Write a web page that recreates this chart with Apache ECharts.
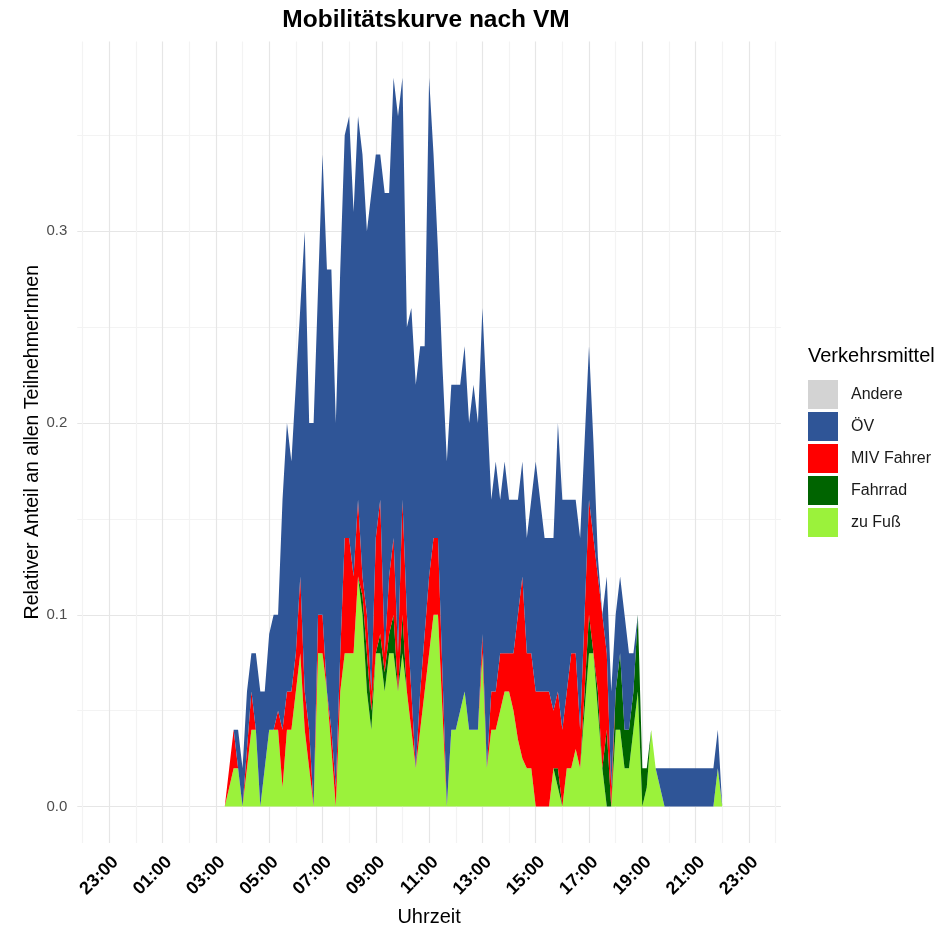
<!DOCTYPE html>
<html>
<head>
<meta charset="utf-8">
<script src="https://cdn.jsdelivr.net/npm/echarts@6/dist/echarts.min.js"></script>
<style>html,body{margin:0;padding:0;background:#fff}#c{width:938px;height:932px}</style>
</head>
<body>
<div id="c"></div>
<script>
const times = ['03:20','03:30','03:40','03:50',
'04:00','04:10','04:20','04:30','04:40','04:50',
'05:00','05:10','05:20','05:30','05:40','05:50',
'06:00','06:10','06:20','06:30','06:40','06:50',
'07:00','07:10','07:20','07:30','07:40','07:50',
'08:00','08:10','08:20','08:30','08:40','08:50',
'09:00','09:10','09:20','09:30','09:40','09:50',
'10:00','10:10','10:20','10:30','10:40','10:50',
'11:00','11:10','11:20','11:30','11:40','11:50',
'12:00','12:10','12:20','12:30','12:40','12:50',
'13:00','13:10','13:20','13:30','13:40','13:50',
'14:00','14:10','14:20','14:30','14:40','14:50',
'15:00','15:10','15:20','15:30','15:40','15:50',
'16:00','16:10','16:20','16:30','16:40','16:50',
'17:00','17:10','17:20','17:30','17:40','17:50',
'18:00','18:10','18:20','18:30','18:40','18:50',
'19:00','19:10','19:20','19:30','19:40','19:50',
'20:00','20:10','20:20','20:30','20:40','20:50',
'21:00','21:10','21:20','21:30','21:40','21:50',
'22:00'];

const zuFuss = [0,.01,.02,.02,
0,.02,.04,.04,0,.02,
.04,.04,.04,.01,.04,.04,
.06,.08,.04,.02,0,.08,
.08,.06,.03,0,.06,.08,
.08,.08,.12,.10,.06,.04,
.08,.08,.06,.08,.08,.06,
.08,.06,.04,.02,.04,.06,
.08,.10,.10,.05,0,.04,
.04,.05,.06,.04,.04,.04,
.08,.02,.04,.04,.05,.06,
.06,.05,.035,.025,.02,.02,
0,0,0,0,.02,.01,
0,.02,.02,.03,.02,.05,
.08,.08,.05,.02,0,0,
.04,.04,.02,.02,.04,.06,
0,.01,.04,.02,.01,0,
0,0,0,0,0,0,
0,0,0,0,0,.02,
0];

const fahrrad = [0,0,0,0,
0,0,0,0,0,0,
0,0,0,0,0,0,
0,0,0,0,0,0,
0,0,0,0,0,0,
0,0,0,.01,.02,.01,
0,.01,.01,.01,.02,0,
.02,0,0,0,0,0,
0,0,0,0,0,0,
0,0,0,0,0,0,
0,0,0,0,0,0,
0,0,0,0,0,0,
0,0,0,0,0,.01,
0,0,0,0,0,.01,
.02,0,.01,0,.04,0,
.02,.04,.02,.02,.02,.04,
.02,.01,0,0,0,0,
0,0,0,0,0,0,
0,0,0,0,0,0,
0];

const mivFahrer = [0,.01,.02,0,
0,.01,.02,0,0,0,
0,0,.01,.03,.02,.02,
.02,.04,.02,.02,0,.02,
.02,0,.01,.01,.02,.06,
.06,.04,.04,.01,.02,.01,
.06,.07,.01,.03,.04,.02,
.06,.04,.02,0,.02,.03,
.04,.04,.04,.02,0,0,
0,0,0,0,0,0,
.01,0,.02,.02,.03,.02,
.02,.03,.065,.095,.06,.06,
.06,.06,.06,.06,.03,.04,
.04,.04,.06,.05,.02,.04,
.06,.06,.06,.08,.04,.01,
0,0,0,0,0,0,
0,0,0,0,0,0,
0,0,0,0,0,0,
0,0,0,0,0,0,
0];

const oev = [0,0,0,.02,
.02,.03,.02,.04,.06,.04,
.05,.06,.05,.12,.14,.12,
.14,.14,.24,.16,.20,.17,
.24,.22,.24,.19,.20,.21,
.22,.19,.20,.22,.20,.26,
.20,.18,.24,.20,.24,.28,
.22,.15,.20,.20,.18,.15,
.26,.20,.15,.16,.18,.18,
.18,.17,.18,.16,.18,.16,
.17,.19,.10,.12,.08,.10,
.08,.08,.06,.06,.06,.08,
.12,.10,.08,.08,.09,.14,
.12,.10,.08,.08,.10,.09,
.08,.05,.01,0,.04,.05,
.04,.04,.06,.04,.02,0,
0,0,0,0,.01,.02,
.02,.02,.02,.02,.02,.02,
.02,.02,.02,.02,.02,.02,
0];

const andere = times.map(() => 0);

const tickLabels = ['23:00','01:00','03:00','05:00','07:00','09:00','11:00','13:00','15:00','17:00','19:00','21:00','23:00'];
const yTickLabels = ['0.0','0.1','0.2','0.3'];

const FONT = 'Liberation Sans, Arial, Helvetica, sans-serif';
const toHour = s => { const p = s.split(':').map(Number); return p[0] + p[1] / 60; };
const xs = times.map(toHour);

const labelPos = tickLabels.map((_, i) => -1 + 2 * i);
const gridPos = []; for (let h = -2; h <= 24; h++) gridPos.push(h);
const yLabelPos = yTickLabels.map(Number);
const yGridPos = [0, 0.05, 0.1, 0.15, 0.2, 0.25, 0.3, 0.35];

// value first so that the stacked dimension is the value (y), time second (x)
function mk(name, vals, color) {
  return {
    name, type: 'line', stack: 'vm',
    data: xs.map((x, i) => [vals[i], x]),
    encode: { x: 1, y: 0 },
    symbol: 'none', showSymbol: false,
    lineStyle: { width: 0 },
    areaStyle: { color, opacity: 1 },
    itemStyle: { color },
    color,
    emphasis: { disabled: true },
    silent: true
  };
}

const chart = echarts.init(document.getElementById('c'), null, { renderer: 'canvas' });
chart.setOption({
  animation: false,
  backgroundColor: '#ffffff',
  textStyle: { fontFamily: FONT },
  title: [
    { text: 'Mobilitätskurve nach VM', left: 421, top: 3, textAlign: 'center',
      textStyle: { fontFamily: FONT, fontSize: 24.5, fontWeight: 'bold', color: '#000' } },
    { text: 'Verkehrsmittel', left: 803, top: 341,
      textStyle: { fontFamily: FONT, fontSize: 20, fontWeight: 'normal', color: '#000' } }
  ],
  legend: {
    data: ['Andere', 'ÖV', 'MIV Fahrer', 'Fahrrad', 'zu Fuß'],
    orient: 'vertical', left: 808, top: 380, padding: 0,
    itemWidth: 30, itemHeight: 29, itemGap: 3, icon: 'rect',
    selectedMode: false,
    itemStyle: { borderWidth: 0 },
    textStyle: { fontFamily: FONT, fontSize: 16, color: '#1A1A1A', padding: [0, 0, 0, 8] }
  },
  grid: { left: 77.3, right: 157.1, top: 41.4, bottom: 88, containLabel: false },
  xAxis: {
    type: 'value', min: -2.2, max: 24.2,
    name: 'Uhrzeit', nameLocation: 'middle', nameGap: 64, nameMoveOverlap: false,
    nameTextStyle: { fontFamily: FONT, fontSize: 20, color: '#000' },
    axisLine: { show: false },
    axisTick: { show: false, customValues: gridPos },
    axisLabel: {
      customValues: labelPos, rotate: 45, margin: 10, verticalAlign: 'top',
      fontFamily: FONT, fontSize: 18, fontWeight: 'bold', color: '#000',
      formatter: v => tickLabels[Math.round((v + 1) / 2)] || ''
    },
    splitLine: { show: true, lineStyle: { color: ['#F3F3F3', '#E6E6E6'], width: 1.2 } }
  },
  yAxis: {
    type: 'value', min: -0.019, max: 0.399,
    name: 'Relativer Anteil an allen TeilnehmerInnen', nameLocation: 'middle', nameGap: 35,
    nameMoveOverlap: false,
    nameTextStyle: { fontFamily: FONT, fontSize: 19.5, color: '#000' },
    axisLine: { show: false },
    axisTick: { show: false, customValues: yGridPos },
    axisLabel: {
      customValues: yLabelPos, margin: 10,
      fontFamily: FONT, fontSize: 15, color: '#4D4D4D',
      formatter: v => yTickLabels[Math.round(v * 10)] || ''
    },
    splitLine: { show: true, lineStyle: { color: ['#E6E6E6', '#F3F3F3'], width: 1.2 } }
  },
  series: [
    mk('zu Fuß', zuFuss, '#9BF23B'),
    mk('Fahrrad', fahrrad, '#006400'),
    mk('MIV Fahrer', mivFahrer, '#FF0000'),
    mk('ÖV', oev, '#2F5597'),
    mk('Andere', andere, '#D3D3D3')
  ]
});
</script>
</body>
</html>
